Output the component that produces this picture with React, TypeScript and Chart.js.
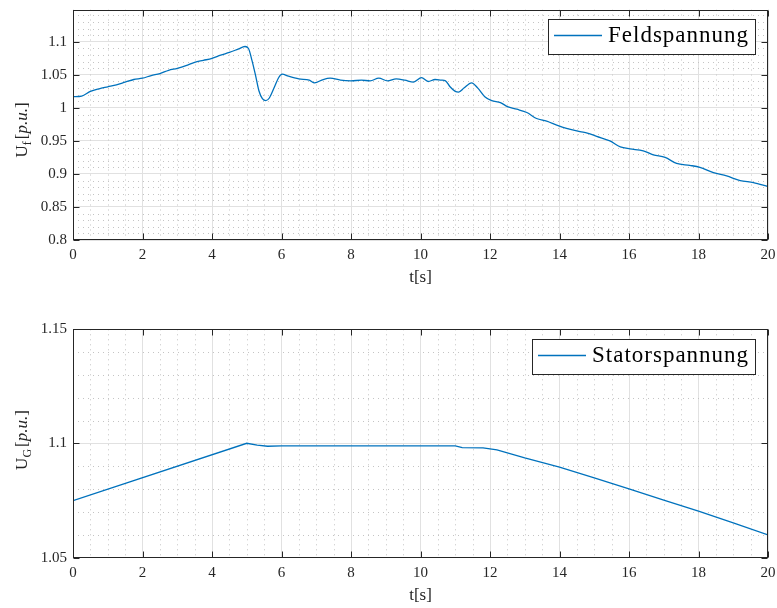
import React, { useEffect, useRef } from "react";
import { Chart, registerables } from "chart.js";

Chart.register(...registerables);

const FONT = "'Liberation Serif', 'DejaVu Serif', 'Times New Roman', serif";
const LINE_COLOR = "#0072BD";
const TEXT_COLOR = "#262626";

// ---- axes ----
const xTicks = [0, 2, 4, 6, 8, 10, 12, 14, 16, 18, 20];
const xTickLabels = ["0", "2", "4", "6", "8", "10", "12", "14", "16", "18", "20"];

const feldYTicks = [0.8, 0.85, 0.9, 0.95, 1, 1.05, 1.1];
const feldYTickLabels = ["0.8", "0.85", "0.9", "0.95", "1", "1.05", "1.1"];

const statorYTicks = [1.05, 1.1, 1.15];
const statorYTickLabels = ["1.05", "1.1", "1.15"];

// ---- Feldspannung (top) ----
const feldTime = [
  0.0, 0.25, 0.5, 0.75, 1.0, 1.25, 1.5, 1.75, 2.0, 2.25, 2.5, 2.75, 3.0, 3.25, 3.5, 3.75, 4.0, 4.25, 4.5, 4.75,
  4.95, 5.05, 5.15, 5.25, 5.35, 5.45, 5.55, 5.65, 5.8, 5.92, 6.02, 6.2, 6.5, 6.8, 6.95, 7.2, 7.4, 7.7, 8.0, 8.3,
  8.55, 8.8, 9.05, 9.3, 9.55, 9.8, 10.03, 10.22, 10.42, 10.6, 10.72, 10.85, 11.0, 11.1, 11.25, 11.47, 11.65, 11.85,
  12.05, 12.3, 12.5, 12.77, 13.06, 13.34, 13.63, 13.92, 14.2, 14.59, 14.8, 15.07, 15.45, 15.75, 16.03, 16.41, 16.7,
  17.04, 17.37, 17.75, 18.04, 18.43, 18.81, 19.2, 19.58, 20.0,
];
const feldVoltage = [
  1.017, 1.018, 1.025, 1.029, 1.032, 1.035, 1.039, 1.043, 1.045, 1.049, 1.052, 1.057, 1.06, 1.064, 1.069, 1.072,
  1.075, 1.08, 1.084, 1.089, 1.093, 1.09, 1.072, 1.05, 1.026, 1.014, 1.011, 1.015, 1.032, 1.046, 1.051, 1.048,
  1.044, 1.042, 1.038, 1.043, 1.045, 1.042, 1.041, 1.042, 1.041, 1.045, 1.041, 1.044, 1.042, 1.039, 1.046, 1.04,
  1.043, 1.042, 1.041, 1.032, 1.025, 1.024, 1.03, 1.038, 1.03, 1.017, 1.011, 1.008, 1.002, 0.998, 0.993, 0.984,
  0.98, 0.974, 0.969, 0.964, 0.962, 0.957, 0.95, 0.941, 0.938, 0.935, 0.929, 0.925, 0.916, 0.913, 0.91, 0.902,
  0.897, 0.89, 0.887, 0.881,
];

// ---- Statorspannung (bottom) ----
const statorTime = [0, 5.0, 5.3, 5.6, 6.0, 8.0, 10.0, 11.0, 11.2, 11.8, 12.2, 13.0, 14.0, 15.0, 16.0, 17.0, 18.0, 19.0, 20.0];
const statorVoltage = [
  1.075, 1.1001, 1.0993, 1.0988, 1.099, 1.099, 1.099, 1.099, 1.0982, 1.0981, 1.0972, 1.0937, 1.0897, 1.085,
  1.0801, 1.0752, 1.0704, 1.0652, 1.06,
];

type DecorOpts = {
  xMinor: number;
  yMinor: number;
  xMajor: number[];
  yMajor: number[];
  sub: string;
  titleCY: number;
  legend: string;
  legendDy: number;
};

function makeDecor(o: DecorOpts) {
  const isMajor = (arr: number[], v: number) => arr.some((m) => Math.abs(m - v) < 1e-6);
  return {
    id: "decor",
    beforeDatasetsDraw(chart: any) {
      const { ctx, chartArea, scales } = chart;
      const { left, right, top, bottom } = chartArea;
      const xs = scales.x;
      const ys = scales.y;
      ctx.save();
      ctx.beginPath();
      ctx.rect(left, top, right - left, bottom - top);
      ctx.clip();
      ctx.strokeStyle = "#c4c4c4";
      ctx.lineWidth = 1;
      ctx.setLineDash([1, 4]);
      const nx = Math.round((xs.max - xs.min) / o.xMinor);
      for (let i = 1; i < nx; i++) {
        const v = xs.min + i * o.xMinor;
        if (isMajor(o.xMajor, v)) continue;
        const px = Math.round(xs.getPixelForValue(v)) + 0.5;
        ctx.beginPath();
        ctx.moveTo(px, top);
        ctx.lineTo(px, bottom);
        ctx.stroke();
      }
      const ny = Math.floor((ys.max - ys.min) / o.yMinor + 1e-6);
      for (let i = 1; i <= ny; i++) {
        const v = ys.min + i * o.yMinor;
        if (isMajor(o.yMajor, v) || v >= ys.max - 1e-9) continue;
        const py = Math.round(ys.getPixelForValue(v)) + 0.5;
        ctx.beginPath();
        ctx.moveTo(left, py);
        ctx.lineTo(right, py);
        ctx.stroke();
      }
      ctx.restore();
    },
    afterDraw(chart: any) {
      const { ctx, chartArea, scales } = chart;
      const { left, right, top, bottom } = chartArea;
      const xs = scales.x;
      const ys = scales.y;
      ctx.save();
      // box
      ctx.strokeStyle = TEXT_COLOR;
      ctx.lineWidth = 1;
      ctx.setLineDash([]);
      const L = Math.round(left) + 0.5;
      const R = Math.round(right) - 0.5;
      const T = Math.round(top) + 0.5;
      const B = Math.round(bottom) - 0.5;
      ctx.strokeRect(L, T, R - L, B - T);
      // inward ticks
      const tl = 6;
      ctx.beginPath();
      o.xMajor.forEach((v) => {
        const px = Math.round(xs.getPixelForValue(v)) + 0.5;
        ctx.moveTo(px, B);
        ctx.lineTo(px, B - tl);
        ctx.moveTo(px, T);
        ctx.lineTo(px, T + tl);
      });
      o.yMajor.forEach((v) => {
        const py = Math.round(ys.getPixelForValue(v)) + 0.5;
        ctx.moveTo(L, py);
        ctx.lineTo(L + tl, py);
        ctx.moveTo(R, py);
        ctx.lineTo(R - tl, py);
      });
      ctx.stroke();

      // y-axis title with subscript
      const main = `17px ${FONT}`;
      const subF = `12px ${FONT}`;
      const ital = `italic 17px ${FONT}`;
      const parts: [string, string, number, number][] = [
        ["U", main, 0, 0],
        [o.sub, subF, 4, 2],
        ["[", main, 0, 0],
        ["p.u.", ital, 0, 0],
        ["]", main, 0, 0],
      ];
      ctx.save();
      ctx.translate(21, o.titleCY);
      ctx.rotate(-Math.PI / 2);
      ctx.fillStyle = TEXT_COLOR;
      ctx.textBaseline = "alphabetic";
      ctx.textAlign = "left";
      let w = 0;
      parts.forEach((p) => {
        ctx.font = p[1];
        w += ctx.measureText(p[0]).width + p[3];
      });
      let cx = -w / 2;
      parts.forEach((p) => {
        ctx.font = p[1];
        ctx.fillText(p[0], cx, 6 + p[2]);
        cx += ctx.measureText(p[0]).width + p[3];
      });
      ctx.restore();

      // legend
      ctx.font = `23px ${FONT}`;
      try {
        (ctx as any).letterSpacing = "1px";
      } catch (e) {}
      const tw = ctx.measureText(o.legend).width;
      const bw = 60 + tw + 6;
      const bh = 35;
      const bx = Math.round(right - 13 - bw);
      const by = Math.round(top + o.legendDy);
      ctx.fillStyle = "#ffffff";
      ctx.fillRect(bx, by, bw, bh);
      ctx.strokeStyle = TEXT_COLOR;
      ctx.lineWidth = 1;
      ctx.strokeRect(bx + 0.5, by + 0.5, Math.round(bw), bh);
      ctx.strokeStyle = LINE_COLOR;
      ctx.lineWidth = 1.5;
      ctx.beginPath();
      ctx.moveTo(bx + 6, by + 16.5);
      ctx.lineTo(bx + 54, by + 16.5);
      ctx.stroke();
      ctx.fillStyle = "#000000";
      ctx.textBaseline = "alphabetic";
      ctx.fillText(o.legend, bx + 60, by + 23);
      ctx.restore();
    },
  };
}

function buildConfig(p: {
  time: number[];
  values: number[];
  smooth: boolean;
  yMin: number;
  yMax: number;
  yTicks: number[];
  yTickLabels: string[];
  padTop: number;
  xHeight: number;
  titlePadBottom: number;
  decor: DecorOpts;
}): any {
  const tickFont = { family: FONT, size: 15 };
  const zeroPad = (s: any) => {
    s.paddingTop = 0;
    s.paddingBottom = 0;
    s.paddingLeft = 0;
    s.paddingRight = 0;
  };
  return {
    type: "line",
    data: {
      datasets: [
        {
          data: p.time.map((t, i) => ({ x: t, y: p.values[i] })),
          borderColor: LINE_COLOR,
          borderWidth: 1.3,
          pointRadius: 0,
          fill: false,
          tension: 0,
          cubicInterpolationMode: p.smooth ? "monotone" : "default",
        },
      ],
    },
    options: {
      animation: false,
      responsive: false,
      devicePixelRatio: 1,
      layout: { padding: { top: p.padTop, right: 9, left: 0, bottom: 0 } },
      plugins: { legend: { display: false }, tooltip: { enabled: false } },
      scales: {
        x: {
          type: "linear",
          min: 0,
          max: 20,
          afterBuildTicks: (s: any) => {
            s.ticks = xTicks.map((v) => ({ value: v }));
          },
          afterFit: (s: any) => {
            s.height = p.xHeight;
            zeroPad(s);
          },
          ticks: {
            autoSkip: false,
            maxRotation: 0,
            padding: 6,
            color: TEXT_COLOR,
            font: tickFont,
            callback: (v: number) => xTickLabels[xTicks.findIndex((t) => Math.abs(t - v) < 1e-9)],
          },
          grid: { color: "#e1e1e1", drawTicks: false, lineWidth: 1 },
          border: { display: false },
          title: {
            display: true,
            text: "t[s]",
            color: TEXT_COLOR,
            font: { family: FONT, size: 17 },
            padding: { top: 0, bottom: p.titlePadBottom },
          },
        },
        y: {
          type: "linear",
          min: p.yMin,
          max: p.yMax,
          afterBuildTicks: (s: any) => {
            s.ticks = p.yTicks.map((v) => ({ value: v }));
          },
          afterFit: (s: any) => {
            s.width = 73;
            zeroPad(s);
          },
          ticks: {
            autoSkip: false,
            padding: 6,
            color: TEXT_COLOR,
            font: tickFont,
            callback: (v: number) => p.yTickLabels[p.yTicks.findIndex((t) => Math.abs(t - v) < 1e-9)],
          },
          grid: { color: "#e1e1e1", drawTicks: false, lineWidth: 1 },
          border: { display: false },
        },
      },
    },
    plugins: [makeDecor(p.decor)],
  };
}

export default function App() {
  const topRef = useRef<HTMLCanvasElement | null>(null);
  const botRef = useRef<HTMLCanvasElement | null>(null);

  useEffect(() => {
    if (!topRef.current || !botRef.current) return;
    const c1 = new Chart(
      topRef.current,
      buildConfig({
        time: feldTime,
        values: feldVoltage,
        smooth: true,
        yMin: 0.8,
        yMax: 1.149,
        yTicks: feldYTicks,
        yTickLabels: feldYTickLabels,
        padTop: 9.5,
        xHeight: 60,
        titlePadBottom: 12.5,
        decor: {
          xMinor: 0.5,
          yMinor: 0.01,
          xMajor: xTicks,
          yMajor: feldYTicks,
          sub: "f",
          titleCY: 130,
          legend: "Feldspannung",
          legendDy: 9.5,
        },
      })
    );
    const c2 = new Chart(
      botRef.current,
      buildConfig({
        time: statorTime,
        values: statorVoltage,
        smooth: false,
        yMin: 1.05,
        yMax: 1.15,
        yTicks: statorYTicks,
        yTickLabels: statorYTickLabels,
        padTop: 29.3,
        xHeight: 50.3,
        titlePadBottom: 2.5,
        decor: {
          xMinor: 0.5,
          yMinor: 0.01,
          xMajor: xTicks,
          yMajor: statorYTicks,
          sub: "G",
          titleCY: 140,
          legend: "Statorspannung",
          legendDy: 9.7,
        },
      })
    );
    return () => {
      c1.destroy();
      c2.destroy();
    };
  }, []);

  return (
    <div style={{ position: "absolute", left: 0, top: 0, width: 777, height: 608, background: "#fff" }}>
      <canvas ref={topRef} width={777} height={300} style={{ display: "block", width: 777, height: 300 }} />
      <canvas ref={botRef} width={777} height={308} style={{ display: "block", width: 777, height: 308 }} />
    </div>
  );
}
